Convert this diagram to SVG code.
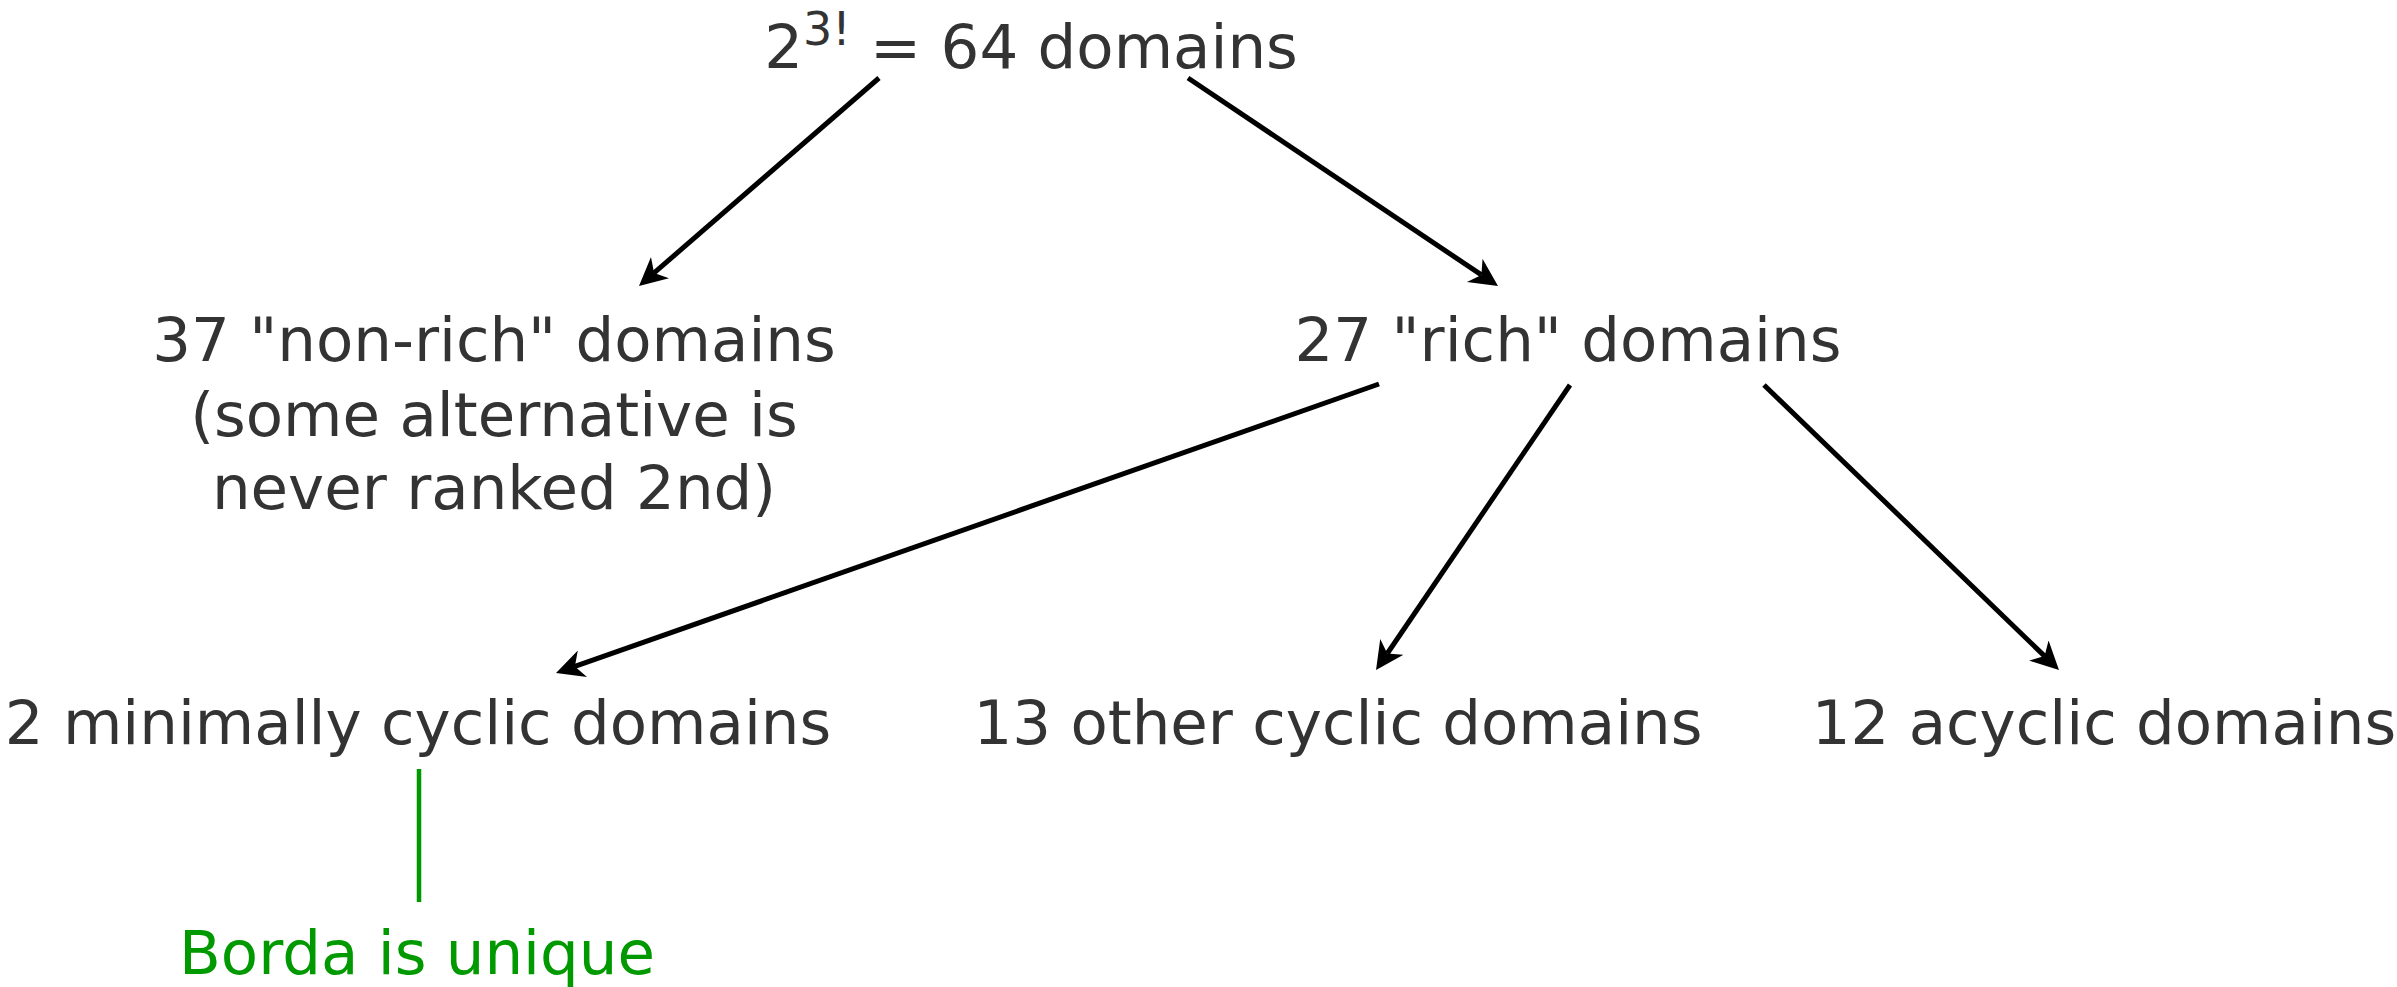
<svg xmlns="http://www.w3.org/2000/svg" width="2397" height="987" viewBox="0 0 2397 987">
  <style>
    .t { font-family: "DejaVu Sans", Verdana, sans-serif; font-size: 61px; fill: #333333; text-anchor: middle; }
    .g { fill: #009900; }
    .c { stroke: #000000; stroke-width: 5; fill: none; }
  </style>
  <defs>
    <marker id="ah" markerUnits="userSpaceOnUse" markerWidth="30" markerHeight="30" viewBox="0 0 30 30" refX="8" refY="14" orient="auto">
      <path d="M0,0 L28,14 L0,28 L8,14 Z" fill="#000000"/>
    </marker>
  </defs>
  <rect width="2397" height="987" fill="#ffffff"/>
  <g id="connectors">
    <line class="c" x1="879" y1="78" x2="654.1" y2="272.9" marker-end="url(#ah)"/>
    <line class="c" x1="1188" y1="78" x2="1481.4" y2="274.9" marker-end="url(#ah)"/>
    <line class="c" x1="1379" y1="384" x2="574.9" y2="666.4" marker-end="url(#ah)"/>
    <line class="c" x1="1570" y1="385" x2="1387.3" y2="653.5" marker-end="url(#ah)"/>
    <line class="c" x1="1764" y1="385" x2="2044.6" y2="656.1" marker-end="url(#ah)"/>
    <line x1="419" y1="769" x2="419" y2="902" stroke="#009900" stroke-width="4.5"/>
  </g>
  <g id="node-total">
    <text class="t" x="1031" y="68">2<tspan font-size="46" dy="-23">3!</tspan><tspan dy="23"> = 64 domains</tspan></text>
  </g>
  <g id="node-nonrich">
    <text class="t" x="494" y="361">37 "non-rich" domains</text>
    <text class="t" x="494" y="436">(some alternative is</text>
    <text class="t" x="494" y="509">never ranked 2nd)</text>
  </g>
  <g id="node-rich">
    <text class="t" x="1568" y="361">27 "rich" domains</text>
  </g>
  <g id="node-minimal">
    <text class="t" x="418" y="744">2 minimally cyclic domains</text>
  </g>
  <g id="node-othercyclic">
    <text class="t" x="1338" y="744">13 other cyclic domains</text>
  </g>
  <g id="node-acyclic">
    <text class="t" x="2104" y="744">12 acyclic domains</text>
  </g>
  <g id="node-borda">
    <text class="t g" x="417" y="974">Borda is unique</text>
  </g>
</svg>
